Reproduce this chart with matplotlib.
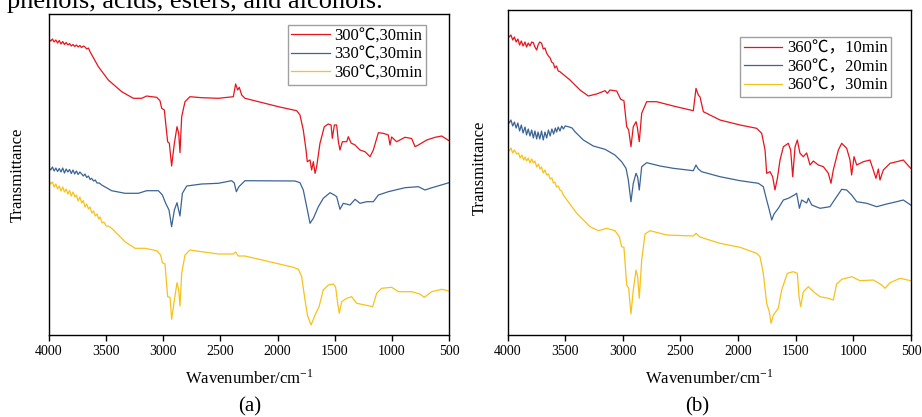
import matplotlib
matplotlib.use('Agg')
import matplotlib.pyplot as plt

plt.rcParams['font.family'] = ['Liberation Serif', 'Noto Sans CJK SC', 'DejaVu Sans']
plt.rcParams['mathtext.fontset'] = 'stix'

# ---- panel (a): temperature series, 30 min ----
labels_a = ['300℃,30min', '330℃,30min', '360℃,30min']

wn_a_300 = [4000, 3985, 3970, 3955, 3940, 3925, 3910, 3895, 3880, 3865, 3850, 3835, 3820, 3805, 3790,
            3775, 3760, 3745, 3730, 3715, 3700, 3685, 3670, 3655, 3641, 3568, 3481, 3364, 3262, 3189,
            3145, 3102, 3058, 3029, 3014, 2991, 2962, 2947, 2927, 2903, 2880, 2865, 2854, 2839, 2810,
            2767, 2664, 2518, 2387, 2367, 2349, 2335, 2314, 2285, 1993, 1833, 1804, 1775, 1751, 1740,
            1716, 1702, 1687, 1672, 1658, 1629, 1591, 1556, 1532, 1521, 1503, 1483, 1468, 1454, 1433,
            1395, 1381, 1357, 1322, 1279, 1235, 1191, 1162, 1118, 1075, 1031, 1016, 1002, 958, 885,
            827, 797, 768, 739, 695, 622, 564, 500]
t_a_300 = [295.7, 294, 296, 293, 295, 292, 294.5, 291, 293.5, 290.5, 292.5, 290, 291.5, 289, 290.5,
           288.5, 290, 288, 289.5, 287.5, 289, 288, 286, 287, 283.3, 268.3, 255, 243.3, 236.7, 236.7,
           239, 238.3, 237.7, 234.3, 226.7, 225, 193.3, 191.7, 169, 191.7, 208.3, 201.7, 182.3, 218.3, 233.3,
           238.3, 237.3, 236.7, 238.3, 251, 245, 247.7, 240, 236.7, 228.3, 224.3, 220, 205, 185, 173.3,
           175, 165, 173.3, 161.7, 168.3, 191.7, 208.3, 211, 210, 196.7, 210, 210, 193.3, 185, 193.3,
           193.3, 198.3, 192, 190, 185, 183.3, 178.3, 185, 202.3, 201.7, 200, 190, 198, 193.3, 197.7,
           196.5, 188.3, 190, 192, 195, 197.7, 199, 194.3]

wn_a_330 = [4000, 3985, 3970, 3955, 3940, 3925, 3910, 3895, 3880, 3865, 3850, 3835, 3820, 3805, 3790,
            3775, 3760, 3745, 3730, 3714, 3700, 3685, 3670, 3655, 3640, 3627, 3610, 3595, 3580, 3560,
            3539, 3452, 3335, 3218, 3145, 3043, 3008, 2979, 2950, 2927, 2903, 2880, 2854, 2833, 2795,
            2664, 2518, 2402, 2379, 2361, 2338, 2285, 1847, 1804, 1775, 1745, 1716, 1687, 1643, 1600,
            1541, 1503, 1483, 1454, 1425, 1366, 1322, 1279, 1220, 1162, 1118, 1031, 885, 768, 710,
            666, 500]
t_a_330 = [167.3, 165, 168, 164, 167, 163.5, 166.5, 163, 167, 162, 166, 163, 165.5, 161.5, 165,
           161, 164, 160.5, 163, 161, 159, 161, 157.5, 159, 155.5, 156.7, 154, 155, 152, 152,
           150, 144.3, 141.7, 141.7, 144.3, 144.3, 140, 131.7, 125, 108.3, 125, 132.3, 119, 141.7, 149,
           151, 151.7, 154.3, 152, 143.3, 148.3, 154.3, 154, 152.3, 145, 128.3, 111.7, 116.7, 128.3, 136.7,
           142.3, 140, 138.3, 125.7, 131.7, 130, 135.7, 131.7, 133.3, 133.3, 140, 143.3, 147.3, 148.3, 145,
           146.7, 152.3]

wn_a_360 = [4000, 3985, 3970, 3955, 3940, 3925, 3910, 3895, 3880, 3865, 3850, 3835, 3820, 3805, 3790,
            3772, 3760, 3745, 3730, 3714, 3700, 3685, 3670, 3655, 3641, 3625, 3610, 3595, 3580, 3565,
            3554, 3535, 3520, 3500, 3480, 3452, 3335, 3247, 3160, 3058, 3023, 3008, 2985, 2962, 2941,
            2927, 2903, 2880, 2865, 2854, 2839, 2810, 2767, 2664, 2518, 2387, 2367, 2344, 2285, 1862,
            1818, 1789, 1760, 1737, 1707, 1672, 1637, 1600, 1556, 1512, 1492, 1474, 1460, 1439, 1395,
            1352, 1308, 1235, 1168, 1133, 1089, 1002, 943, 827, 754, 716, 652, 564, 500]
t_a_360 = [154.3, 151, 153, 148, 151, 146, 149, 144, 148, 143, 146, 141, 144.5, 139, 143,
           138, 140, 134, 138, 132, 134.5, 128, 131, 126, 128, 122, 124, 119, 121, 116,
           118, 112, 113, 109, 109, 106.7, 93.3, 86.7, 86.7, 84.3, 80, 72.3, 71, 38.3, 37.7,
           15.7, 35, 52.3, 45, 29, 61.7, 80, 85, 83.3, 81, 81, 83, 79, 79, 67.7,
           65.7, 58.3, 35, 19, 10, 20, 28.3, 45, 50, 51, 48, 31.7, 21.7, 33.3, 36.7,
           38.3, 31.7, 30, 28.3, 41.7, 46.7, 47.7, 43.3, 43.3, 41, 37.7, 43.3, 45.7, 44]

# ---- panel (b): time series at 360 C ----
labels_b = ['360℃，10min', '360℃，20min', '360℃，30min']

wn_b_10 = [4001, 3985, 3970, 3955, 3940, 3925, 3910, 3895, 3880, 3865, 3848, 3835, 3820, 3805, 3790,
           3776, 3762, 3747, 3735, 3720, 3704, 3690, 3675, 3660, 3645, 3630, 3617, 3602, 3590, 3575,
           3560, 3545, 3458, 3371, 3299, 3227, 3154, 3134, 3111, 3053, 3018, 2990, 2966, 2949, 2929,
           2909, 2885, 2874, 2857, 2836, 2793, 2706, 2562, 2388, 2365, 2345, 2330, 2301, 2157, 1983,
           1839, 1795, 1766, 1752, 1723, 1700, 1680, 1659, 1636, 1607, 1564, 1544, 1526, 1506, 1486,
           1463, 1434, 1405, 1376, 1347, 1304, 1260, 1217, 1194, 1174, 1130, 1101, 1058, 1029, 1015,
           994, 971, 913, 856, 827, 804, 783, 769, 740, 682, 624, 567, 503]
t_b_10 = [301.7, 298, 300, 295, 298, 293, 296, 290, 294, 289, 293, 288, 292, 289, 293,
          292.3, 288, 285, 290, 293, 291.7, 286, 287, 281.7, 279, 277, 273, 271.7, 267, 269,
          264, 263.3, 255, 245, 239, 241, 244.3, 241.7, 245, 244, 235.7, 234.3, 208.3, 205, 188.3,
          208.3, 213.3, 208, 193.3, 221.7, 233.3, 233.3, 229, 224.3, 246.7, 240, 238, 223.3, 215, 210,
          206.7, 201.7, 185, 161.7, 163.3, 158.3, 145, 156.7, 175, 188.3, 191.7, 185, 158.3, 188, 195,
          181.7, 178.3, 182, 170, 174, 170, 168.3, 161.7, 151.7, 165, 185, 191.7, 186.7, 175, 160,
          178.3, 170, 173.3, 175, 165, 156.7, 166, 155, 165, 171.7, 173.3, 175, 166.7]

wn_b_20 = [4001, 3985, 3970, 3955, 3940, 3925, 3910, 3895, 3880, 3865, 3848, 3835, 3820, 3805, 3790,
           3776, 3762, 3747, 3735, 3720, 3705, 3690, 3675, 3660, 3645, 3630, 3615, 3600, 3585, 3574,
           3560, 3545, 3530, 3515, 3500, 3472, 3440, 3415, 3342, 3256, 3154, 3068, 3010, 2972, 2952,
           2929, 2909, 2885, 2871, 2857, 2836, 2793, 2677, 2562, 2388, 2365, 2345, 2316, 2157, 1983,
           1824, 1781, 1752, 1729, 1708, 1688, 1651, 1607, 1564, 1512, 1492, 1468, 1448, 1405, 1390,
           1361, 1289, 1203, 1145, 1101, 1058, 1015, 971, 884, 798, 711, 624, 567, 503]
t_b_20 = [216.7, 212, 215, 209, 213, 207, 212, 204, 210, 202, 208, 200, 206, 199, 205,
          197, 204, 196, 203, 196, 204, 195, 203, 197, 205, 199, 206, 201, 207, 203,
          208, 204, 209, 206, 209, 208.3, 207, 203.3, 195, 189, 185.7, 180, 173.3, 166.7, 155,
          133.3, 151.7, 161.7, 158, 145, 168.3, 172.3, 169, 166.7, 164.3, 170, 166, 163.3, 158.3, 154.3,
          151.7, 148.3, 135, 125, 115, 121, 126.7, 135, 136.7, 140, 141.7, 126.7, 135, 132, 136.7,
          130, 126.7, 128.3, 138.3, 145.7, 145, 140, 133.3, 131.7, 128.3, 131, 133.3, 135, 130]

wn_b_30 = [4001, 3985, 3970, 3955, 3940, 3920, 3905, 3890, 3875, 3860, 3848, 3834, 3820, 3805, 3790,
           3776, 3762, 3747, 3732, 3718, 3705, 3690, 3675, 3660, 3645, 3630, 3615, 3602, 3590, 3575,
           3560, 3545, 3530, 3516, 3400, 3284, 3212, 3140, 3068, 3030, 3010, 2990, 2966, 2949, 2929,
           2909, 2885, 2871, 2857, 2836, 2807, 2764, 2620, 2388, 2365, 2330, 2296, 2157, 1983, 1839,
           1810, 1781, 1752, 1729, 1714, 1694, 1651, 1622, 1573, 1521, 1486, 1471, 1457, 1434, 1390,
           1347, 1289, 1217, 1174, 1145, 1101, 1015, 942, 827, 754, 725, 682, 595, 503]
t_b_30 = [189, 184, 187, 182, 185, 181, 182, 177, 180, 175, 178, 174, 177, 172, 176,
          172, 174, 168, 171, 166, 168, 162, 165, 160, 161, 156, 157, 152, 153, 148,
          149, 145, 144, 140, 121.7, 108.3, 104.3, 106.7, 104.3, 98.3, 88.3, 87.7, 50, 46.7, 21,
          45, 65, 58.3, 36.7, 75, 101, 104.3, 100, 99, 101.7, 98, 96.7, 91.7, 87.7, 81.7,
          78.3, 61.7, 31.7, 23.3, 11.7, 20, 26.7, 45, 61.7, 63.3, 61.7, 38.3, 28.3, 43.3, 48.3,
          43.3, 38.3, 36.7, 35, 51, 55.7, 58.3, 54.3, 55, 50, 46.7, 52.3, 56.7, 54.3]

colors = ['#e8141c', '#3b6496', '#f7c21a']

W, H = 922, 417
fig = plt.figure(figsize=(W / 100, H / 100), dpi=100)


def add_axes_px(left, top, right, bottom):
    return fig.add_axes([left / W, 1 - bottom / H, (right - left) / W, (bottom - top) / H])


def style_panel(ax, ymax):
    ax.set_xlim(4000, 500)
    ax.set_ylim(0, ymax)
    ax.set_xticks(range(4000, 499, -500))
    ax.set_yticks([])
    ax.tick_params(axis='x', direction='out', length=4, width=1, labelsize=10, pad=3)
    for s in ax.spines.values():
        s.set_linewidth(1)


ax1 = add_axes_px(49, 14, 449, 335)
for wn, t, lab, c in zip([wn_a_300, wn_a_330, wn_a_360], [t_a_300, t_a_330, t_a_360], labels_a, colors):
    ax1.plot(wn, t, color=c, lw=0.9, label=lab)
style_panel(ax1, 321)
ax1.legend(loc='upper right', bbox_to_anchor=(0.9425, 0.966), borderaxespad=0, fontsize=12,
           fancybox=False, edgecolor='#a0a0a0', framealpha=1, handlelength=2.3, handletextpad=0.3,
           labelspacing=0.15, borderpad=0.2)

ax2 = add_axes_px(507.5, 9.5, 911, 335)
for wn, t, lab, c in zip([wn_b_10, wn_b_20, wn_b_30], [t_b_10, t_b_20, t_b_30], labels_b, colors):
    ax2.plot(wn, t, color=c, lw=0.9, label=lab)
style_panel(ax2, 325.5)
ax2.legend(loc='upper right', bbox_to_anchor=(0.950, 0.9155), borderaxespad=0, fontsize=12,
           fancybox=False, edgecolor='#a0a0a0', framealpha=1, handlelength=2.3, handletextpad=0.3,
           labelspacing=0.15, borderpad=0.2)

# labels placed in pixel coordinates
xl = r'Wavenumber/cm$^{\mathregular{-1}}$'
fig.text(249 / W, 1 - 378 / H, xl, ha='center', va='center', fontsize=12)
fig.text(709 / W, 1 - 378 / H, xl, ha='center', va='center', fontsize=12)
fig.text(18 / W, 1 - 175 / H, 'Transmittance', rotation=90, ha='center', va='center', fontsize=12)
fig.text(480 / W, 1 - 168 / H, 'Transmittance', rotation=90, ha='center', va='center', fontsize=12)
fig.text(250 / W, 1 - 407 / H, '(a)', ha='center', va='center', fontsize=15)
fig.text(697 / W, 1 - 407 / H, '(b)', ha='center', va='center', fontsize=15)
fig.text(7 / W, 1 - 8.3 / H, 'phenols, acids, esters, and alcohols.', ha='left', va='baseline', fontsize=19)

fig.savefig('out.png', dpi=100)
